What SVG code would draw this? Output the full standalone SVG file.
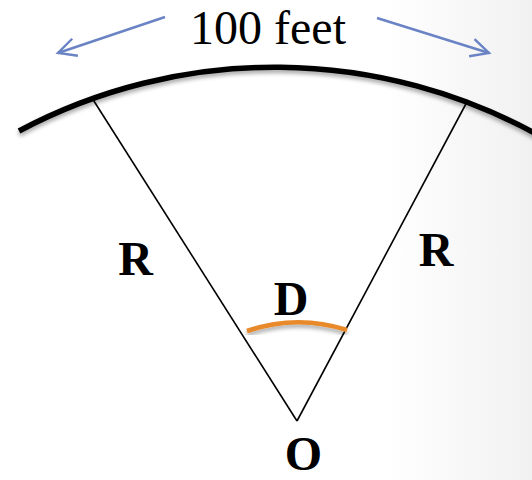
<svg xmlns="http://www.w3.org/2000/svg" width="532" height="480" viewBox="0 0 532 480">
<defs>
<linearGradient id="bg" x1="0" y1="0" x2="1" y2="0">
<stop offset="0" stop-color="#ffffff"/>
<stop offset="0.72" stop-color="#ffffff"/>
<stop offset="1" stop-color="#f1f1f1"/>
</linearGradient>
<filter id="sh" x="-10%" y="-20%" width="120%" height="160%">
<feGaussianBlur in="SourceAlpha" stdDeviation="2"/>
<feOffset dx="0" dy="3" result="b"/>
<feComponentTransfer><feFuncA type="linear" slope="0.35"/></feComponentTransfer>
<feMerge><feMergeNode/><feMergeNode in="SourceGraphic"/></feMerge>
</filter>
<marker id="open" viewBox="0 0 24 24" refX="21" refY="12" markerWidth="24" markerHeight="24" markerUnits="userSpaceOnUse" orient="auto">
<path d="M3,3 L21,12 L3,21" fill="none" stroke="#6a83c4" stroke-width="2.4"/>
</marker>
</defs>
<style>
.lbl{font-family:"Liberation Serif","Times New Roman",serif;font-weight:bold;font-size:48px;fill:#000}
.ttl{font-family:"Liberation Serif","Times New Roman",serif;font-size:48px;fill:#000}
.rad{stroke:#000;stroke-width:1.6;fill:none}
.arr{stroke:#6a83c4;stroke-width:2.4;fill:none;marker-end:url(#open)}
</style>
<rect width="532" height="480" fill="url(#bg)"/>
<g id="edges">
<line class="rad" x1="92" y1="98" x2="297" y2="421"/>
<line class="rad" x1="468" y1="100" x2="297" y2="421"/>
<line class="arr" x1="165" y1="17" x2="58" y2="53"/>
<line class="arr" x1="377" y1="18" x2="489" y2="53"/>
</g>
<g id="bigarc">
<path d="M19,131 A545,545 0 0 1 540,136" fill="none" stroke="#000" stroke-width="5.5" filter="url(#sh)"/>
</g>
<g id="smallarc">
<path d="M247,331 Q297,314 347,330" fill="none" stroke="#e8892b" stroke-width="4.5" filter="url(#sh)"/>
</g>
<g id="title"><text class="ttl" x="268" y="43.5" text-anchor="middle">100 feet</text></g>
<g id="R1"><text class="lbl" x="135.5" y="275" text-anchor="middle">R</text></g>
<g id="R2"><text class="lbl" x="436" y="266" text-anchor="middle">R</text></g>
<g id="D"><text class="lbl" x="291" y="315" text-anchor="middle">D</text></g>
<g id="O"><text class="lbl" x="303.5" y="469.5" text-anchor="middle">O</text></g>
</svg>
